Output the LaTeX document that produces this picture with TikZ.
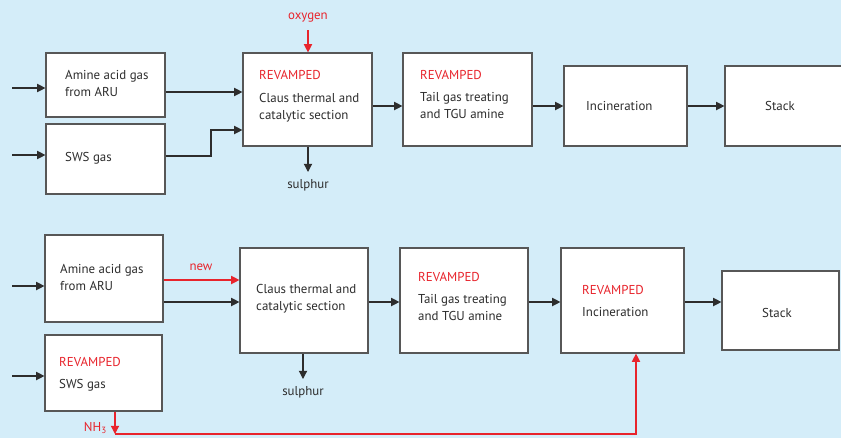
\documentclass[tikz,border=0pt]{standalone}
\usepackage{fontspec}
\setmainfont{PT Sans}
\usetikzlibrary{arrows.meta,fit,positioning}
\definecolor{bg}{RGB}{212,237,249}
\definecolor{rv}{RGB}{232,36,44}
\definecolor{ln}{RGB}{45,45,45}
\tikzset{
blk/.style={draw=ln!80!white,fill=white,line width=1pt,inner sep=0pt},
txt/.style={anchor=north west,inner sep=0pt,align=left,text=ln,font=\fontsize{11}{14.5}\selectfont},
lbl/.style={inner sep=0pt,font=\fontsize{11}{14.5}\selectfont},
ar/.style={-{Triangle[length=7pt,width=7pt]},draw=ln,line width=1pt},
rar/.style={ar,draw=rv}
}
\newcommand{\rvp}{\textcolor{rv}{REVAMPED}}

\begin{document}
\begin{tikzpicture}[x=0.03cm,y=-0.03cm]
\fill[bg](0,0) rectangle (841,438);
\useasboundingbox(0,0) rectangle (841,438);
% upper scheme
\node[blk,fit={(46,53)(165,117)}](A1){};
\node[blk,fit={(46,124)(165,194)}](S1){};
\node[blk,fit={(243,53)(372,146)}](C1){};
\node[blk,fit={(403,53)(532,146)}](T1){};
\node[blk,fit={(564,66)(687,146)}](I1){};
\node[blk,fit={(725,66)(845,146)}](K1){};
\node[txt](tA1) at (65,70){Amine acid gas\\from ARU};
\node[txt](tS1) at (65,152){SWS gas};
\node[txt](tC1) at (259,70){\rvp\\[5pt]Claus thermal and\\catalytic section};
\node[txt](tT1) at (420,70){\rvp\\[4pt]Tail gas treating\\and TGU amine};
\node[txt](tI1) at (586,101){Incineration};
\node[txt](tK1) at (765,101){Stack};
\node[lbl,text=rv](ox) at (308,18){oxygen};
\node[lbl,text=ln](su1) at (308,185){sulphur};
\coordinate(a1) at (12,88);
\coordinate(s1) at (12,155);
\coordinate(j1) at (211,0);
\draw[ar](a1)--(A1.west|-a1);
\draw[ar](s1)--(S1.west|-s1);
\draw[ar](A1.east|-0,92)--(C1.west|-0,92);
\draw[ar](S1.east|-0,156)-|(j1|-0,130)--(C1.west|-0,130);
\draw[rar](ox.south|-0,30)--(C1.north-|ox);
\draw[ar](C1.south-|su1)--(su1.north|-0,172);
\draw[ar](C1.east|-0,106)--(T1.west|-0,106);
\draw[ar](T1.east|-0,106)--(I1.west|-0,106);
\draw[ar](I1.east|-0,106)--(K1.west|-0,106);
% lower scheme
\node[blk,fit={(45,235)(163,322)}](A2){};
\node[blk,fit={(45,335)(162,411)}](S2){};
\node[blk,fit={(240,248)(368,353)}](C2){};
\node[blk,fit={(400,248)(528,353)}](T2){};
\node[blk,fit={(561,248)(684,353)}](I2){};
\node[blk,fit={(722,271)(839,350)}](K2){};
\node[txt](tA2) at (60,264){Amine acid gas\\from ARU};
\node[txt](tS2) at (59,357){\rvp\\[4pt]SWS gas};
\node[txt](tC2) at (256,284){Claus thermal and\\catalytic section};
\node[txt](tT2) at (418,272){\rvp\\[4pt]Tail gas treating\\and TGU amine};
\node[txt](tI2) at (582,285){\rvp\\[4pt]Incineration};
\node[txt](tK2) at (762,308){Stack};
\node[lbl,text=rv](nw) at (201,267){new};
\node[lbl,text=ln](su2) at (303,392){sulphur};
\node[lbl,text=rv,anchor=east](nh) at (107,428){NH\textsubscript{3}};
\coordinate(a2) at (12,286);
\coordinate(s2) at (12,376);
\coordinate(n) at (115,434);
\coordinate(m) at (636,0);
\draw[ar](a2)--(A2.west|-a2);
\draw[ar](s2)--(S2.west|-s2);
\draw[rar](A2.east|-0,280)--(C2.west|-0,280);
\draw[ar](A2.east|-0,302)--(C2.west|-0,302);
\draw[ar](C2.south-|su2)--(su2.north|-0,379);
\draw[ar](C2.east|-0,302)--(T2.west|-0,302);
\draw[ar](T2.east|-0,302)--(I2.west|-0,302);
\draw[ar](I2.east|-0,302)--(K2.west|-0,302);
\draw[rar](S2.south-|n)--(n);
\draw[rar](n)-|(I2.south-|m);
\end{tikzpicture}
\end{document}
